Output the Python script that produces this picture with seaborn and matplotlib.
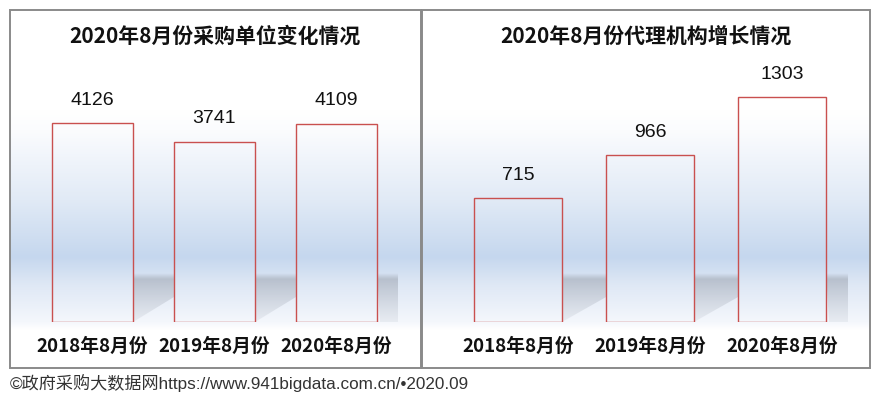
import numpy as np
import pandas as pd
import matplotlib
matplotlib.use("Agg")
import matplotlib.pyplot as plt
from matplotlib.patches import Rectangle, Polygon
from matplotlib.colors import to_rgb
import seaborn as sns

# ---------------- data ----------------
categories = ["2018年8月份", "2019年8月份", "2020年8月份"]
buyers = [4126, 3741, 4109]
agencies = [715, 966, 1303]
title_left = "2020年8月份采购单位变化情况"
title_right = "2020年8月份代理机构增长情况"
footer = "©政府采购大数据网https://www.941bigdata.com.cn/•2020.09"

sns.set_theme(style="white")
plt.rcParams['font.family'] = ['Noto Sans CJK SC', 'DejaVu Sans']

W, H = 881, 403
fig = plt.figure(figsize=(W / 100, H / 100), dpi=100)
fig.patch.set_facecolor("white")

# background axes in pixel coordinates
bg = fig.add_axes([0, 0, 1, 1])
bg.set_xlim(0, W)
bg.set_ylim(H, 0)
bg.axis("off")


def vgrad(stops, n=300):
    ys = np.linspace(0, 1, n)
    pos = [s[0] for s in stops]
    cols = np.array([to_rgb(s[1]) for s in stops])
    arr = np.zeros((n, 1, 3))
    for c in range(3):
        arr[:, 0, c] = np.interp(ys, pos, cols[:, c])
    return arr


g_top, g_bot = 110, 330
stops = [(0.0, "#ffffff"), (20 / 220, "#fbfcfe"), (90 / 220, "#e1eaf6"),
         (147 / 220, "#c5d7ee"), (175 / 220, "#dfe8f5"), (212 / 220, "#f4f7fc"), (1.0, "#ffffff")]
grad = vgrad(stops)
for x0, x1 in [(10, 421), (423, 869)]:
    bg.imshow(grad, extent=(x0, x1, g_bot, g_top), origin="upper", aspect="auto",
              interpolation="bilinear", zorder=0)

# panel borders
for x0, x1 in [(9.5, 421), (422, 870)]:
    bg.add_patch(Rectangle((x0, 9.5), x1 - x0, 358.5, fill=False,
                           edgecolor="#8a8a8a", linewidth=1.4, zorder=5))

# titles
bg.text(215, 36, title_left, ha="center", va="center", fontsize=15,
        fontweight="bold", color="#111111", zorder=6)
bg.text(646, 36, title_right, ha="center", va="center", fontsize=15,
        fontweight="bold", color="#111111", zorder=6)

# footer
bg.text(10, 383, footer, ha="left", va="center", fontsize=12.3,
        family=['Liberation Sans', 'Noto Sans CJK SC'], color="#333333", zorder=6)

# shadow gradient image (RGBA)
n = 100
sh = np.zeros((n, 1, 4))
sh[:, 0, 0] = np.linspace(0.60, 0.75, n)
sh[:, 0, 1] = np.linspace(0.63, 0.77, n)
sh[:, 0, 2] = np.linspace(0.68, 0.81, n)
alpha = np.linspace(0.62, 0.22, n)
ramp = np.clip(np.arange(n) / 12.0, 0, 1)
sh[:, 0, 3] = alpha * ramp


def panel(ax, values, ymax, px_h):
    df = pd.DataFrame({"cat": categories, "val": values})
    sns.barplot(data=df, x="cat", y="val", ax=ax, width=0.665, color="white")
    ax.set_xlim(-0.5, 2.5)
    ax.set_ylim(0, ymax)
    ax.patch.set_alpha(0)
    for s in ax.spines.values():
        s.set_visible(False)
    ax.set_xlabel("")
    ax.set_ylabel("")
    ax.set_yticks([])
    ax.tick_params(axis="x", length=0, pad=11)
    for t in ax.get_xticklabels():
        t.set_fontweight("bold")
        t.set_fontsize(13.5)
        t.set_color("#111111")
    unit = ymax / px_h  # data units per pixel
    patches = sorted(ax.patches, key=lambda p: p.get_x())
    for p in patches:
        p.set_facecolor("none")
        p.set_edgecolor("#c9504f")
        p.set_linewidth(1.0)
        p.set_zorder(3)
    # shadows
    stop_y = 49 * unit
    for i, p in enumerate(patches):
        xr = p.get_x() + p.get_width()
        if i < len(patches) - 1:
            xe = patches[i + 1].get_x()
            poly = [(xr, stop_y), (xe, stop_y), (xe, 25 * unit), (xr, 0)]
        else:
            xe = xr + (p.get_width() / 0.665) * 0.17
            poly = [(xr, stop_y), (xe, stop_y), (xe, 0), (xr + 0.02, 0)]
        pg = Polygon(poly, closed=True, facecolor="none", edgecolor="none")
        ax.add_patch(pg)
        im = ax.imshow(sh, extent=(xr, xe, 0, stop_y), origin="upper",
                       aspect="auto", interpolation="bilinear", zorder=1)
        im.set_clip_path(pg)
    for p, v in zip(patches, values):
        ax.annotate(f"{v}", (p.get_x() + p.get_width() / 2, p.get_height()),
                    xytext=(0, 16.5), textcoords="offset points", ha="center",
                    va="center", fontsize=14, family=['Liberation Sans'],
                    color="#111111", zorder=6)
    ax.set_xlim(-0.5, 2.5)
    ax.set_ylim(0, ymax)


axL = fig.add_axes([31.5 / W, (H - 322) / H, 366 / W, 242 / H])
panel(axL, buyers, 5018, 242)
axR = fig.add_axes([452 / W, (H - 322) / H, 396 / W, 242 / H])
panel(axR, agencies, 1401, 242)

fig.savefig("out.png", dpi=100, facecolor="white")
